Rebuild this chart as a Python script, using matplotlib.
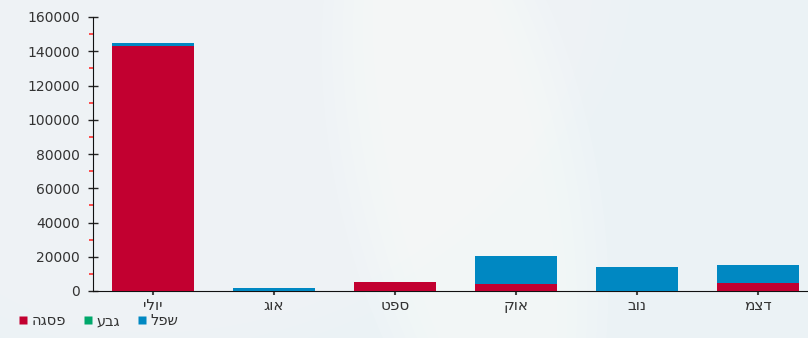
import matplotlib.pyplot as plt
from matplotlib.lines import Line2D
from matplotlib.patches import Ellipse
import numpy as np

plt.rcParams['font.family'] = ['DejaVu Sans']

# monthly totals per level
months = ['יולי', 'אוג', 'ספט', 'אוק', 'נוב', 'דצמ']
peak = [143000, 0, 5000, 4300, 0, 4900]      # פסגה
shoulder = [0, 0, 0, 0, 0, 0]                 # גבע
low = [2000, 2000, 0, 16300, 14200, 10100]    # שפל

series_names = ['פסגה', 'גבע', 'שפל']
series_colors = ['#c20030', '#00a86b', '#0088c2']


def rtl(s):
    # matplotlib lays glyphs out left to right, so flip hebrew words
    return s[::-1]


fig = plt.figure(figsize=(8.08, 3.38), dpi=100)
fig.patch.set_facecolor('#ebf2f5')

# soft white swoosh in the background, built from stacked faint ellipses
bg = fig.add_axes([0, 0, 1, 1], zorder=-10)
bg.set_xlim(0, 808)
bg.set_ylim(338, 0)
bg.axis('off')
for k in range(6):
    bg.add_patch(Ellipse((250, 60), 800 - 40 * k, 560 - 30 * k, angle=-25,
                         color='white', alpha=0.06, lw=0))
for k in range(6):
    bg.add_patch(Ellipse((465, 170), 260 - 22 * k, 640 - 20 * k, angle=-12,
                         color='white', alpha=0.1, lw=0))

ax = fig.add_axes([93 / 808, 47 / 338, 715 / 808, 274 / 338])
ax.patch.set_alpha(0)

x = np.arange(len(months))
w = 0.67
bottom = np.zeros(len(months))
for vals, col in zip([peak, shoulder, low], series_colors):
    vals = np.array(vals, dtype=float)
    ax.bar(x, vals, w, bottom=bottom, color=col, edgecolor='none', zorder=3)
    bottom += vals

ax.set_xlim(-0.496, 5.413)
ax.set_ylim(0, 160000)
ax.set_yticks(np.arange(0, 160001, 20000))
ax.set_yticks(np.arange(10000, 160000, 20000), minor=True)
ax.set_xticks(x)
ax.set_xticklabels([rtl(m) for m in months])

for s in ['top', 'right']:
    ax.spines[s].set_visible(False)
ax.spines['left'].set_color('#111111')
ax.spines['bottom'].set_color('#111111')

ax.tick_params(axis='y', which='major', direction='inout', length=7, width=1,
               color='#222222', labelsize=10, labelcolor='#333333', pad=6)
ax.tick_params(axis='y', which='minor', direction='out', length=3, width=1.2,
               color='#ff3030')
ax.tick_params(axis='x', direction='out', length=3, width=1.5, color='#444444',
               labelsize=11, labelcolor='#333333', pad=2)

handles = [Line2D([], [], marker='s', linestyle='none', markersize=5.5,
                  markerfacecolor=c, markeredgecolor='none') for c in series_colors]
fig.legend(handles, [rtl(n) for n in series_names], loc='lower left',
           bbox_to_anchor=(0.003, -0.01), ncol=3, frameon=False, fontsize=10.5,
           handletextpad=0.1, columnspacing=1.0, handlelength=1.0,
           labelcolor='#333333')

fig.savefig('out.png', dpi=100, facecolor=fig.get_facecolor())
